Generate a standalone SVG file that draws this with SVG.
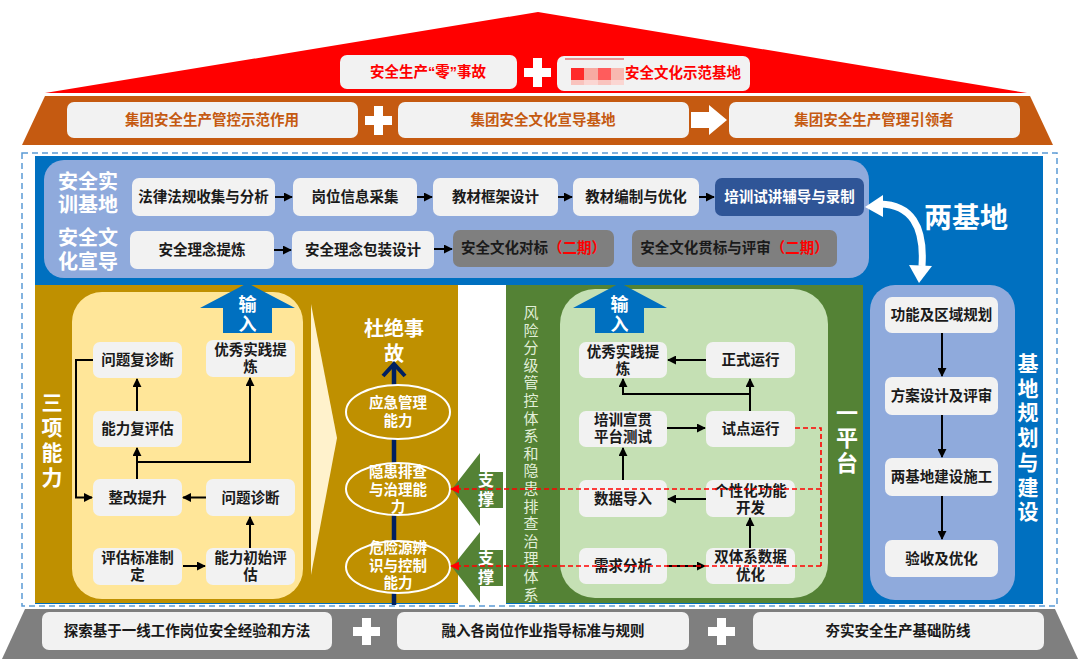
<svg xmlns="http://www.w3.org/2000/svg" width="1080" height="659" viewBox="0 0 1080 659">
<defs>
<style>
.t{font-family:"Liberation Sans","Noto Sans CJK SC",sans-serif;font-weight:bold;font-size:14.5px;text-anchor:middle;dominant-baseline:central;fill:#1a1a1a}
.w{fill:#fff}
.box{fill:#f2f2f2}
.ln{fill:none;stroke:#000;stroke-width:2}
.rd{fill:none;stroke:#ff0000;stroke-width:1.6;stroke-dasharray:5 3}
.pl{fill:#fff}
</style>
<marker id="ah" viewBox="0 0 10 10" refX="9" refY="5" markerWidth="9" markerHeight="9" markerUnits="userSpaceOnUse" orient="auto"><path d="M0,0 L10,5 L0,10 z" fill="#000"/></marker>
<marker id="rh" viewBox="0 0 10 10" refX="9" refY="5" markerWidth="9" markerHeight="9" markerUnits="userSpaceOnUse" orient="auto"><path d="M0,0 L10,5 L0,10 z" fill="#ff0000"/></marker>
</defs>
<rect width="1080" height="659" fill="#fff"/>

<!-- roof -->
<g id="roof">
<polygon points="45,93 538,12 1027,93" fill="#ff0000"/>
<polygon points="45,96 1030,96 1053,145 22,145" fill="#c55a11"/>
</g>
<g id="top-goal">
<rect x="340" y="55" width="177" height="34" rx="7" class="box"/>
<text x="428" y="72" class="t" style="fill:#ff0000">安全生产“零”事故</text>
</g>
<g id="top-plus"><rect x="533" y="58" width="9" height="29" class="pl"/><rect x="524" y="68" width="27" height="9" class="pl"/></g>
<g id="top-base">
<rect x="557" y="56" width="193" height="35" rx="7" class="box"/>
<line x1="565" y1="59" x2="624" y2="59" stroke="#e03030" stroke-width="1"/>
<rect x="571" y="68" width="13" height="12" fill="#ff2a2a"/>
<rect x="584" y="68" width="14" height="12" fill="#f7aaa2"/>
<rect x="598" y="68" width="13" height="12" fill="#ff5c5c"/>
<rect x="611" y="68" width="13" height="12" fill="#f8b8b0"/>
<rect x="571" y="80" width="13" height="5" fill="#f9c3bd"/>
<rect x="584" y="80" width="14" height="5" fill="#fbd6d2"/>
<rect x="598" y="80" width="13" height="5" fill="#f9c3bd"/>
<rect x="611" y="80" width="13" height="5" fill="#fbd6d2"/>
<text x="683" y="73" class="t" style="fill:#ff0000">安全文化示范基地</text>
</g>
<g id="row2-1"><rect x="67" y="102" width="291" height="36" rx="7" class="box"/><text x="212" y="120" class="t" style="fill:#c55a11">集团安全生产管控示范作用</text></g>
<g id="row2-plus"><rect x="374" y="106" width="9" height="29" class="pl"/><rect x="365" y="116" width="27" height="9" class="pl"/></g>
<g id="row2-2"><rect x="398" y="102" width="291" height="36" rx="7" class="box"/><text x="543" y="120" class="t" style="fill:#c55a11">集团安全文化宣导基地</text></g>
<g id="row2-arrow"><polygon points="691,112 709,112 709,105 727,120 709,135 709,128 691,128" fill="#fff"/></g>
<g id="row2-3"><rect x="729" y="102" width="291" height="36" rx="7" class="box"/><text x="874" y="120" class="t" style="fill:#c55a11">集团安全生产管理引领者</text></g>

<!-- frame -->
<rect x="22" y="153" width="1035" height="453" fill="#fff" stroke="#5b9bd5" stroke-width="1.5" stroke-dasharray="6 4"/>
<rect x="35" y="156" width="1008" height="448" fill="#0070c0"/>
<rect x="44" y="160" width="825" height="118" rx="20" fill="#8faadc"/>
<rect x="35" y="285" width="423" height="318" fill="#bf9000"/>
<rect x="458" y="285" width="48" height="319" fill="#fff"/>
<rect x="506" y="285" width="357" height="318" fill="#548235"/>
<rect x="870" y="285" width="145" height="315" rx="25" fill="#8faadc"/>
<rect x="72" y="292" width="231" height="307" rx="30" fill="#ffe699"/>
<rect x="560" y="289" width="268" height="309" rx="35" fill="#c5e0b4"/>
<polygon points="311,304 337,438 311,575" fill="#fff2cc"/>

<!-- base -->
<polygon points="25,609 1055,609 1078,659 2,659" fill="#7f7f7f"/>
<g id="base-1"><rect x="42" y="612" width="290" height="38" rx="7" class="box"/><text x="187" y="631" class="t">探索基于一线工作岗位安全经验和方法</text></g>
<g id="base-plus1"><rect x="362" y="618" width="9" height="27" class="pl"/><rect x="353" y="627" width="27" height="9" class="pl"/></g>
<g id="base-2"><rect x="397" y="612" width="292" height="38" rx="7" class="box"/><text x="543" y="631" class="t">融入各岗位作业指导标准与规则</text></g>
<g id="base-plus2"><rect x="717" y="618" width="9" height="27" class="pl"/><rect x="708" y="627" width="27" height="9" class="pl"/></g>
<g id="base-3"><rect x="753" y="612" width="291" height="38" rx="7" class="box"/><text x="898" y="631" class="t">夯实安全生产基础防线</text></g>

<!-- top section titles -->
<g id="title-train"><text class="t w" style="font-size:20px" x="88" y="182">安全实</text><text class="t w" style="font-size:20px" x="88" y="205">训基地</text></g>
<g id="title-culture"><text class="t w" style="font-size:20px" x="88" y="238">安全文</text><text class="t w" style="font-size:20px" x="88" y="262">化宣导</text></g>
<g id="n-law"><rect x="132" y="178" width="143" height="38" rx="7" class="box"/><text x="203.5" y="197" class="t">法律法规收集与分析</text></g>
<g id="n-post"><rect x="293" y="178" width="124" height="38" rx="7" class="box"/><text x="355" y="197" class="t">岗位信息采集</text></g>
<g id="n-frame"><rect x="433" y="178" width="125" height="38" rx="7" class="box"/><text x="495.5" y="197" class="t">教材框架设计</text></g>
<g id="n-edit"><rect x="573" y="178" width="126" height="38" rx="7" class="box"/><text x="636" y="197" class="t">教材编制与优化</text></g>
<g id="n-record"><rect x="715" y="178" width="149" height="38" rx="7" fill="#2f5597"/><text x="789.5" y="197" class="t w">培训试讲辅导与录制</text></g>
<g id="n-idea"><rect x="130" y="231" width="144" height="38" rx="7" class="box"/><text x="202" y="250" class="t">安全理念提炼</text></g>
<g id="n-pack"><rect x="292" y="231" width="142" height="38" rx="7" class="box"/><text x="363" y="250" class="t">安全理念包装设计</text></g>
<g id="n-bench"><rect x="453" y="230" width="161" height="37" rx="7" fill="#7f7f7f"/><text x="533.5" y="248" class="t">安全文化对标<tspan style="fill:#ff0000">（二期）</tspan></text></g>
<g id="n-impl"><rect x="632" y="230" width="205" height="37" rx="7" fill="#7f7f7f"/><text x="734.5" y="248" class="t">安全文化贯标与评审<tspan style="fill:#ff0000">（二期）</tspan></text></g>
<g id="two-base"><text class="t w" style="font-size:28px" x="966" y="218">两基地</text></g>

<!-- left section -->
<g id="three-cap"><text class="t w" style="font-size:21px" x="52"><tspan x="52" y="402">三</tspan><tspan x="52" y="427">项</tspan><tspan x="52" y="452">能</tspan><tspan x="52" y="477">力</tspan></text></g>
<g id="input-left"><polygon points="200,308 247.5,283 295,308 272,308 272,333 223,333 223,308" fill="#0070c0"/><text class="t w" style="font-size:18px" x="247.5" y="305">输</text><text class="t w" style="font-size:18px" x="247.5" y="325">入</text></g>
<g id="l-rediag"><rect x="93" y="342" width="89" height="36" rx="7" class="box"/><text x="137.5" y="360" class="t">问题复诊断</text></g>
<g id="l-best"><rect x="206" y="340" width="89" height="37" rx="7" class="box"/><text x="250.5" y="350" class="t">优秀实践提</text><text x="250.5" y="367" class="t">炼</text></g>
<g id="l-reeval"><rect x="93" y="411" width="89" height="36" rx="7" class="box"/><text x="137.5" y="429" class="t">能力复评估</text></g>
<g id="l-improve"><rect x="93" y="479" width="89" height="37" rx="7" class="box"/><text x="137.5" y="497.5" class="t">整改提升</text></g>
<g id="l-diag"><rect x="206" y="479" width="89" height="37" rx="7" class="box"/><text x="250.5" y="497.5" class="t">问题诊断</text></g>
<g id="l-std"><rect x="93" y="548" width="89" height="37" rx="7" class="box"/><text x="137.5" y="558" class="t">评估标准制</text><text x="137.5" y="575" class="t">定</text></g>
<g id="l-init"><rect x="206" y="548" width="89" height="37" rx="7" class="box"/><text x="250.5" y="558" class="t">能力初始评</text><text x="250.5" y="575" class="t">估</text></g>

<g id="goal"><text class="t w" style="font-size:20px" x="394" y="329">杜绝事</text><text class="t w" style="font-size:20px" x="394" y="354">故</text></g>
<g id="goal-line"><line x1="394" y1="605" x2="394" y2="365" stroke="#002060" stroke-width="4.5"/><path d="M383,376 L394,364 L405,376" fill="none" stroke="#002060" stroke-width="4"/></g>
<g id="c-emerg"><ellipse cx="398" cy="412" rx="52" ry="27" fill="#bf9000" stroke="#fff" stroke-width="2"/><text class="t w" x="398" y="403">应急管理</text><text class="t w" x="398" y="421">能力</text></g>
<g id="c-hazard"><ellipse cx="398" cy="489" rx="52" ry="26" fill="#bf9000" stroke="#fff" stroke-width="2"/><text class="t w" x="398" y="472">隐患排查</text><text class="t w" x="398" y="489.5">与治理能</text><text class="t w" x="398" y="507">力</text></g>
<g id="c-risk"><ellipse cx="398" cy="567" rx="52" ry="26" fill="#bf9000" stroke="#fff" stroke-width="2"/><text class="t w" x="398" y="548">危险源辨</text><text class="t w" x="398" y="566">识与控制</text><text class="t w" x="398" y="583">能力</text></g>

<g id="support-1"><polygon points="452,489 480,453 480,472 503,472 503,508 480,508 480,526" fill="#548235"/><text class="t w" style="font-size:16px" x="486" y="480">支</text><text class="t w" style="font-size:16px" x="486" y="499">撑</text></g>
<g id="support-2"><polygon points="452,567 480,532 480,550 503,550 503,586 480,586 480,603" fill="#548235"/><text class="t w" style="font-size:16px" x="486" y="558">支</text><text class="t w" style="font-size:16px" x="486" y="577">撑</text></g>

<!-- green section -->
<g id="risk-system"><text class="t" style="font-weight:normal;font-size:15px;fill:#e2efd9" x="531">
<tspan x="531" y="312">风</tspan><tspan x="531" y="329.6">险</tspan><tspan x="531" y="347.2">分</tspan><tspan x="531" y="364.8">级</tspan><tspan x="531" y="382.4">管</tspan><tspan x="531" y="400">控</tspan><tspan x="531" y="417.6">体</tspan><tspan x="531" y="435.2">系</tspan><tspan x="531" y="452.8">和</tspan><tspan x="531" y="470.4">隐</tspan><tspan x="531" y="488">患</tspan><tspan x="531" y="505.6">排</tspan><tspan x="531" y="523.2">查</tspan><tspan x="531" y="540.8">治</tspan><tspan x="531" y="558.4">理</tspan><tspan x="531" y="576">体</tspan><tspan x="531" y="593.6">系</tspan></text></g>
<g id="input-right"><polygon points="573,308 620,283 667,308 644,308 644,333 595,333 595,308" fill="#0070c0"/><text class="t w" style="font-size:18px" x="619.5" y="305">输</text><text class="t w" style="font-size:18px" x="619.5" y="325">入</text></g>
<g id="g-best"><rect x="579" y="342" width="88" height="36" rx="7" class="box"/><text x="623" y="352" class="t">优秀实践提</text><text x="623" y="369" class="t">炼</text></g>
<g id="g-run"><rect x="706" y="342" width="89" height="36" rx="7" class="box"/><text x="750.5" y="360" class="t">正式运行</text></g>
<g id="g-test"><rect x="579" y="411" width="88" height="36" rx="7" class="box"/><text x="623" y="420" class="t">培训宣贯</text><text x="623" y="437" class="t">平台测试</text></g>
<g id="g-pilot"><rect x="706" y="411" width="89" height="36" rx="7" class="box"/><text x="750.5" y="429" class="t">试点运行</text></g>
<g id="g-import"><rect x="579" y="480" width="88" height="37" rx="7" class="box"/><text x="623" y="498.5" class="t">数据导入</text></g>
<g id="g-custom"><rect x="706" y="480" width="89" height="37" rx="7" class="box"/><text x="750.5" y="491" class="t">个性化功能</text><text x="750.5" y="508" class="t">开发</text></g>
<g id="g-req"><rect x="579" y="548" width="88" height="36" rx="7" class="box"/><text x="623" y="566" class="t">需求分析</text></g>
<g id="g-opt"><rect x="706" y="548" width="89" height="36" rx="7" class="box"/><text x="750.5" y="557" class="t">双体系数据</text><text x="750.5" y="575" class="t">优化</text></g>
<g id="one-platform"><text class="t w" style="font-size:22px" x="847"><tspan x="847" y="413">一</tspan><tspan x="847" y="438">平</tspan><tspan x="847" y="463">台</tspan></text></g>

<!-- right section -->
<g id="r-plan"><rect x="885" y="297" width="113" height="36" rx="7" class="box"/><text x="941.5" y="315" class="t">功能及区域规划</text></g>
<g id="r-design"><rect x="885" y="377" width="113" height="38" rx="7" class="box"/><text x="941.5" y="396" class="t">方案设计及评审</text></g>
<g id="r-build"><rect x="885" y="458" width="113" height="38" rx="7" class="box"/><text x="941.5" y="477" class="t">两基地建设施工</text></g>
<g id="r-accept"><rect x="885" y="540" width="113" height="37" rx="7" class="box"/><text x="941.5" y="558.5" class="t">验收及优化</text></g>
<g id="base-plan"><text class="t w" style="font-size:21px" x="1028"><tspan x="1028" y="363">基</tspan><tspan x="1028" y="387.7">地</tspan><tspan x="1028" y="412.4">规</tspan><tspan x="1028" y="437.1">划</tspan><tspan x="1028" y="461.8">与</tspan><tspan x="1028" y="486.5">建</tspan><tspan x="1028" y="511.2">设</tspan></text></g>

<!-- connectors -->
<g id="connectors">
<path class="ln" marker-end="url(#ah)" d="M275,197 H292"/>
<path class="ln" marker-end="url(#ah)" d="M417,197 H432"/>
<path class="ln" marker-end="url(#ah)" d="M558,197 H572"/>
<path class="ln" marker-end="url(#ah)" d="M699,197 H714"/>
<path class="ln" marker-end="url(#ah)" d="M274,250 H291"/>
<path class="ln" marker-end="url(#ah)" d="M434,249 H452"/>

<path class="ln" marker-end="url(#ah)" d="M183,566 H205"/>
<path class="ln" marker-end="url(#ah)" d="M250,548 V517"/>
<path class="ln" marker-end="url(#ah)" d="M206,497.5 H183"/>
<path class="ln" marker-end="url(#ah)" d="M137,479 V448"/>
<path class="ln" marker-end="url(#ah)" d="M137,462 H250 V378"/>
<path class="ln" marker-end="url(#ah)" d="M137,411 V379"/>
<path class="ln" marker-end="url(#ah)" d="M93,360 H76 V497.5 H92"/>

<path class="ln" marker-end="url(#ah)" d="M706,360 H668"/>
<path class="ln" marker-end="url(#ah)" d="M750,411 V379"/>
<path class="ln" marker-end="url(#ah)" d="M750,394 H623 V379"/>
<path class="ln" marker-end="url(#ah)" d="M667,428 H705"/>
<path class="ln" marker-end="url(#ah)" d="M623,480 V448"/>
<path class="ln" marker-end="url(#ah)" d="M706,499 H668"/>
<path class="ln" marker-end="url(#ah)" d="M750,548 V518"/>
<path class="ln" marker-end="url(#ah)" d="M667,566 H705"/>

<path class="ln" marker-end="url(#ah)" d="M942,333 V376"/>
<path class="ln" marker-end="url(#ah)" d="M942,415 V457"/>
<path class="ln" marker-end="url(#ah)" d="M942,496 V539"/>

<path class="rd" d="M795,428 H821 V566"/>
<path class="rd" marker-end="url(#rh)" d="M821,489 H451"/>
<path class="rd" marker-end="url(#rh)" d="M821,566 H451"/>

<path d="M880,204 Q926,205 922,266" fill="none" stroke="#fff" stroke-width="7"/>
<polygon points="865,207 883,195 883,217" fill="#fff"/>
<polygon points="919,283 909,265 932,266" fill="#fff"/>
</g>
</svg>
